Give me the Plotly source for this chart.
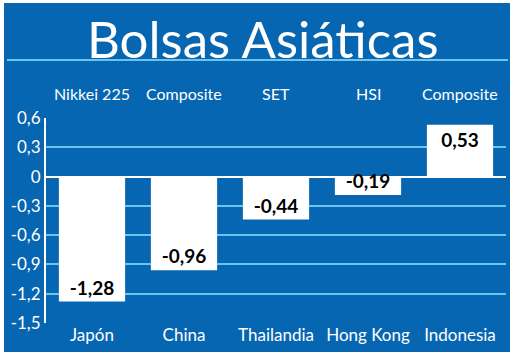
import plotly.graph_objects as go

countries = ["Japón", "China", "Thailandia", "Hong Kong", "Indonesia"]
indices = ["Nikkei 225", "Composite", "SET", "HSI", "Composite"]
values = [-1.28, -0.96, -0.44, -0.19, 0.53]
value_labels = ["-1,28", "-0,96", "-0,44", "-0,19", "0,53"]
tick_vals = [0.6, 0.3, 0, -0.3, -0.6, -0.9, -1.2, -1.5]
tick_text = ["0,6", "0,3", "0", "-0,3", "-0,6", "-0,9", "-1,2", "-1,5"]

BLUE = "#0766B1"
GRID = "#6CC3EE"
FONT = "Lato"

W, H = 520, 356
L, R, T, B = 46, 14, 118, 33
PW, PH = W - L - R, H - T - B


def px(x):
    return (x - L) / PW


def py(y):
    return (H - B - y) / PH


fig = go.Figure()
fig.add_trace(go.Bar(
    x=countries, y=values, text=value_labels,
    textposition="inside", insidetextanchor="end", constraintext="none",
    textfont=dict(family=FONT, size=19, color="black", weight="bold"),
    marker=dict(color="white", line=dict(width=0)),
    width=0.72, showlegend=False, hoverinfo="skip",
))

for c, lab in zip(countries, indices):
    fig.add_annotation(x=c, xref="x", y=1.0, yref="paper", yshift=13,
                       yanchor="bottom", text=lab, showarrow=False,
                       font=dict(family=FONT, size=16, color="white"))

fig.add_annotation(x=px(262), xref="paper", y=py(38), yref="paper",
                   text="Bolsas Asiáticas", showarrow=False,
                   xanchor="center", yanchor="middle",
                   font=dict(family=FONT, size=51, color="white"))

fig.update_layout(
    width=W, height=H,
    paper_bgcolor="white", plot_bgcolor=BLUE,
    margin=dict(l=L, r=R, t=T, b=B),
    shapes=[
        dict(type="rect", xref="paper", yref="paper", layer="below",
             x0=px(4), x1=px(510), y0=py(352), y1=py(3),
             fillcolor=BLUE, line=dict(width=0)),
        dict(type="line", xref="paper", yref="paper",
             x0=px(7), x1=px(508), y0=py(60), y1=py(60),
             line=dict(color=GRID, width=2)),
    ],
    xaxis=dict(showgrid=False, zeroline=False, showline=False, ticks="",
               tickfont=dict(family=FONT, size=17, color="white"),
               range=[-0.5, 4.5]),
    yaxis=dict(range=[-1.5, 0.6], tickvals=tick_vals, ticktext=tick_text,
               showgrid=True, gridcolor=GRID, gridwidth=1.5,
               zeroline=True, zerolinecolor="white", zerolinewidth=2,
               showline=True, linecolor="white", linewidth=2,
               ticks="", tickfont=dict(family=FONT, size=17, color="white")),
)

fig.write_html("out.html", config={"displayModeBar": False},
               post_script="document.body.style.margin='0';")
